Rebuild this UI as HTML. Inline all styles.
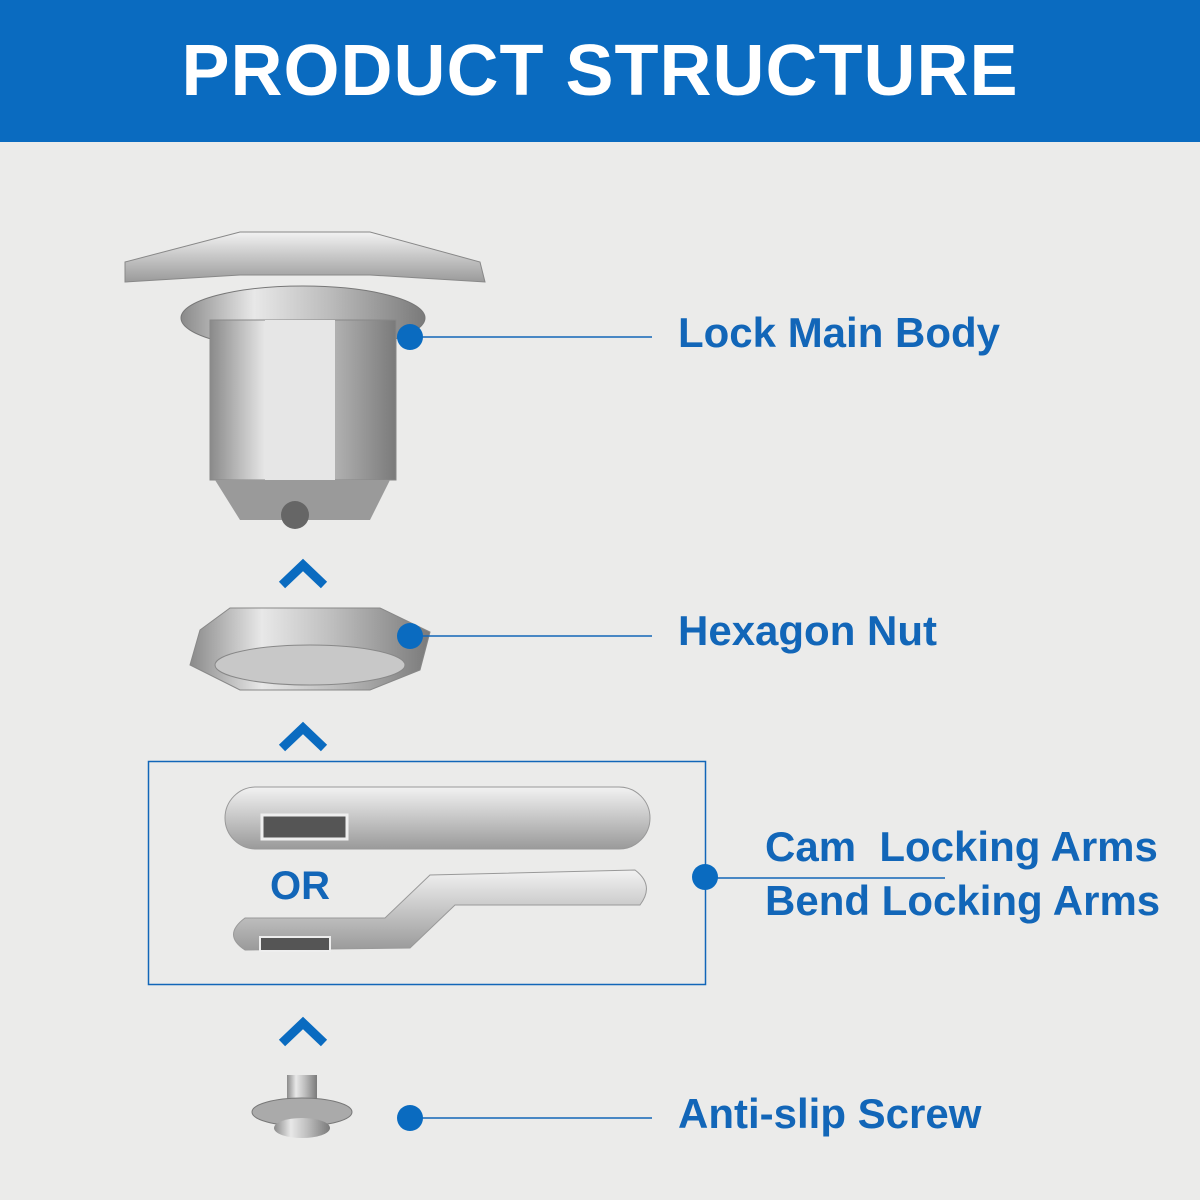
<!DOCTYPE html>
<html><head><meta charset="utf-8"><style>
body{margin:0;width:1200px;height:1200px;overflow:hidden;background:#ebebea;font-family:"Liberation Sans",sans-serif;position:relative}
.hdr{position:absolute;left:0;top:0;width:1200px;height:142px;background:#0a6bc0;color:#fff;font-weight:bold;font-size:72px;text-align:center;line-height:142px;letter-spacing:1px}
.lb{position:absolute;color:#1266b8;font-weight:bold;font-size:42px;white-space:nowrap}
svg{position:absolute;left:0;top:0}
</style></head><body>
<div class="hdr">PRODUCT STRUCTURE</div>
<svg width="1200" height="1200">
<defs>
<linearGradient id="m" x1="0" x2="1"><stop offset="0" stop-color="#8a8a8a"/><stop offset=".3" stop-color="#e8e8e8"/><stop offset=".6" stop-color="#bdbdbd"/><stop offset="1" stop-color="#7a7a7a"/></linearGradient>
<linearGradient id="m2" y1="0" y2="1" x1="0" x2="0"><stop offset="0" stop-color="#f2f2f2"/><stop offset="1" stop-color="#9a9a9a"/></linearGradient>
</defs>
<path d="M125 262 L240 232 L370 232 L480 262 L485 282 L370 275 L240 275 L125 282 Z" fill="url(#m2)" stroke="#888"/>
<ellipse cx="303" cy="318" rx="122" ry="32" fill="url(#m)" stroke="#777"/>
<rect x="210" y="320" width="186" height="160" fill="url(#m)" stroke="#888"/>
<rect x="265" y="320" width="70" height="160" fill="#e6e6e6"/>
<path d="M215 480 L390 480 L370 520 L240 520 Z" fill="#9a9a9a"/>
<circle cx="295" cy="515" r="14" fill="#666"/>
<path d="M200 630 L230 608 L380 608 L430 632 L420 670 L370 690 L240 690 L190 665 Z" fill="url(#m)" stroke="#888"/>
<ellipse cx="310" cy="665" rx="95" ry="20" fill="#c8c8c8" stroke="#888"/>
<rect x="225" y="787" width="425" height="62" rx="31" fill="url(#m2)" stroke="#999"/>
<rect x="262" y="815" width="85" height="24" fill="#555" stroke="#eee" stroke-width="3"/>
<path d="M245 918 L385 918 L430 875 L635 870 Q655 885 640 905 L455 905 L410 948 L245 950 Q222 935 245 918Z" fill="url(#m2)" stroke="#999"/>
<rect x="260" y="937" width="70" height="14" fill="#555" stroke="#eee" stroke-width="2"/>
<rect x="287" y="1075" width="30" height="35" fill="url(#m)"/>
<ellipse cx="302" cy="1112" rx="50" ry="14" fill="#aaa" stroke="#777"/>
<ellipse cx="302" cy="1128" rx="28" ry="10" fill="url(#m)"/>
<g fill="none" stroke="#0a6bc0" stroke-width="9">
<path d="M282 585 L303 565 L324 585"/><path d="M282 748 L303 728 L324 748"/><path d="M282 1043 L303 1023 L324 1043"/>
</g>
<rect x="148.5" y="761.5" width="557" height="223" fill="none" stroke="#1266b8" stroke-width="1.5"/>
<g stroke="#1266b8" stroke-width="1.5">
<line x1="410" y1="337" x2="652" y2="337"/><line x1="410" y1="636" x2="652" y2="636"/>
<line x1="705" y1="878" x2="945" y2="878"/><line x1="410" y1="1118" x2="652" y2="1118"/>
</g>
<g fill="#0a6bc0"><circle cx="410" cy="337" r="13"/><circle cx="410" cy="636" r="13"/><circle cx="705" cy="877" r="13"/><circle cx="410" cy="1118" r="13"/></g>
</svg>
<div class="lb" style="left:678px;top:309px">Lock Main Body</div>
<div class="lb" style="left:678px;top:607px">Hexagon Nut</div>
<div class="lb" style="left:765px;top:823px">Cam&nbsp; Locking Arms</div>
<div class="lb" style="left:765px;top:877px">Bend Locking Arms</div>
<div class="lb" style="left:678px;top:1090px">Anti-slip Screw</div>
<div class="lb" style="left:270px;top:864px;font-size:40px">OR</div>
</body></html>
